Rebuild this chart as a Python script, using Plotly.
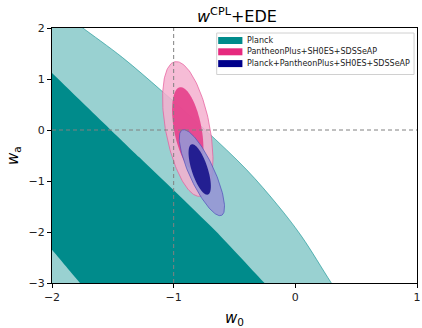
import numpy as np
import plotly.graph_objects as go

# ---- data ----
# Planck: outer (2-sigma) upper-right boundary (first/last points lie just outside the axes)
planck_outer_w0 = [-1.80, -1.746, -1.42, -1.10, -0.74, -0.40, -0.15, 0.05, 0.296, 0.45]
planck_outer_wa = [2.10, 2.0, 1.42, 0.77, 0.0, -0.78, -1.46, -2.08, -3.0, -3.55]
# Planck: inner (1-sigma) upper boundary and lower boundary
planck_inner_up_w0 = [-2.10, -2.0, -1.28, -0.655, -0.253, -0.17]
planck_inner_up_wa = [1.35, 1.12, -0.54, -1.98, -3.0, -3.2]
planck_inner_lo_w0 = [-1.70, -1.77, -2.0, -2.1]
planck_inner_lo_wa = [-3.2, -3.0, -2.35, -2.07]

# Ellipses: center (w0, wa), major half-axis vector, minor half-axis vector (data units)
pink_center = (-0.884, 0.02)
pink_major = (-0.106, 1.319)
pink_minor = (0.178, 0.0835)
pink_inner_scale = 0.62

navy_out_center = (-0.768, -0.837)
navy_out_major = (-0.162, 0.837)
navy_out_minor = (0.092, 0.104)

navy_in_center = (-0.786, -0.774)
navy_in_major = (-0.0675, 0.492)
navy_in_minor = (0.062, 0.050)

legend_labels = ["Planck", "PantheonPlus+SH0ES+SDSSeAP", "Planck+PantheonPlus+SH0ES+SDSSeAP"]
legend_colors = ["#008B8B", "#E62A7E", "#00008B"]

x_ticks = [-2, -1, 0, 1]
y_ticks = [-3, -2, -1, 0, 1, 2]


def ellipse(center, major, minor, scale=1.0, n=160):
    t = np.linspace(0, 2 * np.pi, n)
    x = center[0] + scale * (major[0] * np.cos(t) + minor[0] * np.sin(t))
    y = center[1] + scale * (major[1] * np.cos(t) + minor[1] * np.sin(t))
    return x, y


fig = go.Figure()

# Planck light (2-sigma) region
lx = planck_outer_w0 + [-2.3, -2.3]
ly = planck_outer_wa + [-3.55, 2.10]
fig.add_trace(go.Scatter(x=lx, y=ly, fill="toself", fillcolor="#99D1D1",
                         mode="none", line=dict(shape="spline", smoothing=1),
                         showlegend=False, hoverinfo="skip"))
fig.add_trace(go.Scatter(x=planck_outer_w0, y=planck_outer_wa, mode="lines",
                         line=dict(color="rgba(0,139,139,0.7)", width=0.8,
                                   shape="spline", smoothing=1),
                         showlegend=False, hoverinfo="skip"))
# Planck dark (1-sigma) region
dx = planck_inner_up_w0 + planck_inner_lo_w0
dy = planck_inner_up_wa + planck_inner_lo_wa
fig.add_trace(go.Scatter(x=dx, y=dy, fill="toself", fillcolor="#008B8B",
                         mode="none", line=dict(shape="spline", smoothing=0.6),
                         showlegend=False, hoverinfo="skip"))

# Pink ellipses
ex, ey = ellipse(pink_center, pink_major, pink_minor)
fig.add_trace(go.Scatter(x=ex, y=ey, fill="toself", fillcolor="rgba(245,176,207,0.85)",
                         mode="lines", line=dict(color="rgba(230,90,155,0.9)", width=0.8),
                         showlegend=False, hoverinfo="skip"))
ex, ey = ellipse(pink_center, pink_major, pink_minor, pink_inner_scale)
fig.add_trace(go.Scatter(x=ex, y=ey, fill="toself", fillcolor="rgba(229,62,138,0.9)",
                         mode="none", showlegend=False, hoverinfo="skip"))

# Navy ellipses
ex, ey = ellipse(navy_out_center, navy_out_major, navy_out_minor)
fig.add_trace(go.Scatter(x=ex, y=ey, fill="toself", fillcolor="rgba(150,150,212,0.9)",
                         mode="lines", line=dict(color="rgba(80,80,185,0.9)", width=0.8),
                         showlegend=False, hoverinfo="skip"))
ex, ey = ellipse(navy_in_center, navy_in_major, navy_in_minor)
fig.add_trace(go.Scatter(x=ex, y=ey, fill="toself", fillcolor="rgba(26,22,140,0.93)",
                         mode="none", showlegend=False, hoverinfo="skip"))

# dashed reference lines
fig.add_shape(type="line", xref="x", yref="paper", x0=-1, x1=-1, y0=0, y1=1,
              line=dict(color="#808080", width=1, dash="4px,3px"), layer="above")
fig.add_shape(type="line", xref="paper", yref="y", x0=0, x1=1, y0=0, y1=0,
              line=dict(color="#808080", width=1, dash="4px,3px"), layer="above")

# ---- manual legend (pixel -> paper) ----
L, R, T, B = 52, 1, 28, 45
W, H = 422, 328
pw, ph = W - L - R, H - T - B


def px(x):
    return (x - L) / pw


def py(y):
    return 1 - (y - T) / ph


fig.add_shape(type="rect", xref="paper", yref="paper",
              x0=px(218.5), x1=px(418), y0=py(33), y1=py(74.5),
              line=dict(color="#D0D0D0", width=1), fillcolor="rgba(255,255,255,0.85)",
              layer="above")
row_y = [40.5, 51.8, 63.6]
for lab, col, yy in zip(legend_labels, legend_colors, row_y):
    fig.add_shape(type="rect", xref="paper", yref="paper",
                  x0=px(220), x1=px(244.5), y0=py(yy - 3.5), y1=py(yy + 3.5),
                  line=dict(width=0), fillcolor=col, layer="above")
    fig.add_annotation(x=px(247.5), y=py(yy), xref="paper", yref="paper", text=lab,
                       showarrow=False, xanchor="left", yanchor="middle",
                       font=dict(family="DejaVu Sans", size=8, color="#222222"))

# title and axis titles
fig.add_annotation(x=px(239), y=py(16), xref="paper", yref="paper",
                   text="<i>w</i><sup>CPL</sup>+EDE", showarrow=False,
                   xanchor="center", yanchor="middle",
                   font=dict(family="DejaVu Sans", size=16, color="#000000"))
fig.add_annotation(x=px(236), y=py(318.5), xref="paper", yref="paper",
                   text="<i>w</i><sub>0</sub>", showarrow=False,
                   xanchor="center", yanchor="middle",
                   font=dict(family="DejaVu Sans", size=15, color="#000000"))
fig.add_annotation(x=px(13), y=py(155.5), xref="paper", yref="paper",
                   text="<i>w</i><sub>a</sub>", showarrow=False, textangle=-90,
                   xanchor="center", yanchor="middle",
                   font=dict(family="DejaVu Sans", size=15, color="#000000"))

axis_common = dict(showgrid=False, zeroline=False, showline=True, linecolor="#000000",
                   linewidth=1, mirror=True, ticks="outside", ticklen=4, tickwidth=1,
                   tickcolor="#000000", ticklabeloverflow="allow",
                   tickfont=dict(family="DejaVu Sans", size=11, color="#222222"))
fig.update_xaxes(range=[-2, 1], tickvals=x_ticks, **axis_common)
fig.update_yaxes(range=[-3, 2], tickvals=y_ticks, **axis_common)

fig.update_layout(width=W, height=H, margin=dict(l=L, r=R, t=T, b=B),
                  plot_bgcolor="white", paper_bgcolor="white", showlegend=False)

fig.write_html("out.html")
